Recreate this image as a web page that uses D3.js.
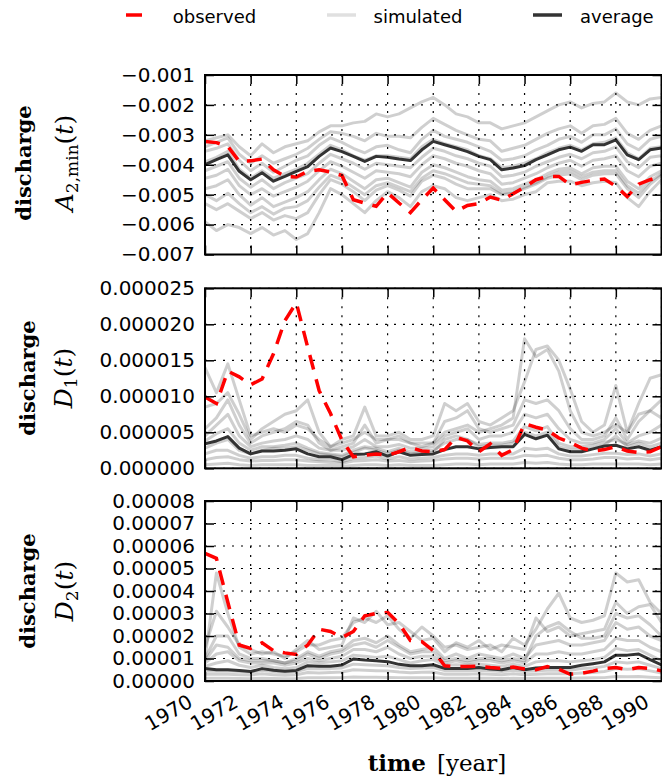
<!DOCTYPE html>
<html><head><meta charset="utf-8">
<script src="https://cdn.jsdelivr.net/npm/d3@7"></script>
<style>body{margin:0;background:#fff}svg{display:block}</style>
</head><body>
<svg id="c" width="662" height="784"></svg>
<script>
// ---------------- DATA ----------------
const years = [1970,1970.5,1971,1971.5,1972,1972.5,1973,1973.5,1974,1974.5,1975,1975.5,1976,1976.5,1977,1977.5,1978,1978.5,1979,1979.5,1980,1980.5,1981,1981.5,1982,1982.5,1983,1983.5,1984,1984.5,1985,1985.5,1986,1986.5,1987,1987.5,1988,1988.5,1989,1989.5,1990];
const xTickValues = [1970,1972,1974,1976,1978,1980,1982,1984,1986,1988,1990];
const xTickLabels = ["1970","1972","1974","1976","1978","1980","1982","1984","1986","1988","1990"];

// Panel 1: discharge A_{2,min}(t), values in units of 1e-3
const a2minTickValues = [-7,-6,-5,-4,-3,-2,-1];
const a2minTickLabels = ["\u22120.007","\u22120.006","\u22120.005","\u22120.004","\u22120.003","\u22120.002","\u22120.001"];
const a2minObserved = [-3.22,-3.26,-3.39,-3.89,-3.87,-3.81,-4.17,-4.39,-4.41,-4.22,-4.17,-4.24,-4.36,-5.17,-5.28,-5.39,-4.94,-5.28,-5.60,-5.17,-4.78,-5.17,-5.56,-5.36,-5.30,-5.08,-5.19,-4.97,-4.75,-4.50,-4.39,-4.39,-4.67,-4.59,-4.52,-4.48,-4.72,-5.06,-4.65,-4.50,-4.39];
const a2minAverage = [-4.00,-3.83,-3.67,-4.22,-4.50,-4.27,-4.55,-4.39,-4.22,-4.06,-3.72,-3.44,-3.56,-3.72,-3.89,-3.72,-3.75,-3.81,-3.86,-3.50,-3.22,-3.33,-3.44,-3.56,-3.72,-3.83,-4.17,-4.11,-4.03,-3.83,-3.67,-3.50,-3.41,-3.55,-3.33,-3.33,-3.17,-3.67,-3.83,-3.50,-3.44];
const a2minSimulated = [
 [-3.20,-3.10,-3.00,-3.40,-3.70,-3.30,-3.60,-3.40,-3.30,-3.20,-2.90,-2.70,-2.70,-2.60,-2.55,-2.30,-2.40,-2.30,-2.10,-1.90,-1.75,-2.00,-2.30,-2.40,-2.60,-2.60,-2.80,-2.70,-2.60,-2.40,-2.20,-2.00,-1.90,-2.10,-1.95,-1.90,-1.60,-1.90,-2.00,-1.80,-1.75],
 [-3.40,-3.25,-3.10,-3.65,-3.95,-3.70,-3.95,-3.80,-3.65,-3.45,-3.15,-2.90,-2.95,-3.05,-3.20,-2.95,-3.05,-3.05,-3.10,-2.75,-2.45,-2.65,-2.85,-3.00,-3.15,-3.20,-3.55,-3.45,-3.35,-3.15,-2.95,-2.80,-2.70,-2.95,-2.70,-2.65,-2.45,-2.95,-3.15,-2.85,-2.70],
 [-3.55,-3.45,-3.30,-3.85,-4.20,-3.95,-4.25,-4.05,-3.85,-3.70,-3.35,-3.10,-3.25,-3.45,-3.60,-3.40,-3.35,-3.50,-3.60,-3.15,-2.85,-3.05,-3.15,-3.25,-3.40,-3.55,-3.85,-3.80,-3.70,-3.50,-3.35,-3.15,-3.05,-3.25,-3.00,-3.00,-2.80,-3.30,-3.50,-3.15,-3.05],
 [-3.90,-3.75,-3.55,-4.15,-4.45,-4.20,-4.45,-4.30,-4.15,-3.95,-3.65,-3.35,-3.50,-3.70,-3.85,-3.70,-3.70,-3.75,-3.80,-3.40,-3.15,-3.30,-3.40,-3.50,-3.70,-3.80,-4.10,-4.05,-3.95,-3.80,-3.60,-3.45,-3.35,-3.50,-3.30,-3.25,-3.10,-3.60,-3.80,-3.45,-3.40],
 [-4.20,-4.05,-3.90,-4.45,-4.75,-4.50,-4.80,-4.60,-4.45,-4.30,-3.95,-3.65,-3.80,-3.95,-4.15,-3.95,-4.00,-4.05,-4.10,-3.75,-3.45,-3.55,-3.70,-3.80,-3.95,-4.05,-4.40,-4.35,-4.25,-4.05,-3.90,-3.75,-3.65,-3.80,-3.60,-3.55,-3.40,-3.90,-4.10,-3.75,-3.70],
 [-4.45,-4.35,-4.15,-4.70,-5.00,-4.80,-5.05,-4.90,-4.75,-4.55,-4.20,-3.90,-4.05,-4.25,-4.45,-4.20,-4.25,-4.30,-4.40,-4.00,-3.70,-3.80,-3.95,-4.05,-4.20,-4.30,-4.65,-4.60,-4.45,-4.30,-4.10,-3.95,-3.85,-4.05,-3.85,-3.80,-3.70,-4.20,-4.40,-4.05,-3.95],
 [-4.80,-4.70,-4.50,-5.00,-5.35,-5.10,-5.40,-5.25,-5.10,-4.90,-4.50,-4.15,-4.30,-4.55,-4.80,-4.50,-4.45,-4.60,-4.75,-4.25,-4.00,-4.10,-4.25,-4.40,-4.50,-4.55,-4.85,-4.80,-4.65,-4.50,-4.30,-4.15,-4.10,-4.30,-4.10,-4.05,-4.05,-4.55,-4.80,-4.40,-4.20],
 [-5.00,-5.20,-4.95,-5.30,-5.60,-5.40,-5.65,-5.45,-5.40,-5.20,-4.75,-4.35,-4.50,-4.75,-5.00,-4.70,-4.60,-4.75,-4.90,-4.45,-4.20,-4.30,-4.45,-4.60,-4.65,-4.70,-4.95,-4.90,-4.75,-4.60,-4.40,-4.25,-4.20,-4.40,-4.25,-4.20,-4.20,-4.70,-4.95,-4.55,-4.30],
 [-5.30,-5.50,-5.30,-5.55,-5.80,-5.60,-5.85,-5.70,-5.80,-5.60,-5.00,-4.50,-4.65,-4.90,-5.20,-4.85,-4.70,-4.85,-5.05,-4.55,-4.35,-4.45,-4.65,-4.80,-4.80,-4.80,-5.00,-4.95,-4.80,-4.65,-4.45,-4.35,-4.30,-4.50,-4.35,-4.30,-4.30,-4.80,-5.10,-4.65,-4.35],
 [-5.90,-6.20,-6.00,-6.10,-6.30,-6.10,-6.35,-6.20,-6.50,-6.30,-5.60,-4.80,-5.00,-5.30,-5.60,-5.20,-4.90,-5.10,-5.40,-4.90,-4.70,-4.80,-5.10,-5.20,-5.10,-5.00,-5.20,-5.15,-5.00,-4.90,-4.60,-4.55,-4.55,-4.70,-4.60,-4.55,-4.60,-5.10,-5.40,-4.90,-4.50]
];

// Panel 2: discharge D_1(t), values in units of 1e-6
const d1TickValues = [0,5,10,15,20,25];
const d1TickLabels = ["0.000000","0.000005","0.000010","0.000015","0.000020","0.000025"];
const d1Observed = [9.9,9.0,13.5,12.7,11.6,12.4,15.9,20.5,23.0,16.8,10.8,7.6,3.9,1.6,1.8,2.0,1.8,2.3,2.9,2.4,2.3,2.6,4.3,3.8,2.3,3.4,1.8,2.6,6.2,5.7,5.3,4.2,3.6,2.8,2.4,2.6,3.0,2.4,2.2,2.3,3.0];
const d1Average = [3.4,3.8,4.4,2.8,2.0,2.4,2.4,2.5,2.7,2.0,1.6,1.6,1.2,1.9,2.0,2.3,1.7,2.3,1.8,1.9,2.0,2.6,3.0,3.0,2.7,2.9,3.0,3.0,4.7,4.1,4.6,2.7,2.3,2.3,2.7,3.1,3.2,2.7,3.0,2.5,3.0];
const d1Simulated = [
 [14.0,10.5,14.5,9.5,4.5,5.0,5.5,5.0,6.0,5.5,4.0,3.0,3.5,4.0,5.0,4.0,4.0,4.5,3.5,3.5,3.5,5.0,5.5,6.0,5.0,5.5,6.0,7.0,18.0,15.5,16.5,13.5,8.0,5.0,4.5,5.0,6.0,5.0,7.5,8.0,7.0],
 [8.5,9.0,10.5,7.5,4.0,5.5,6.5,7.5,8.0,9.5,5.0,3.0,4.0,4.5,8.5,4.5,4.5,5.0,4.0,4.0,4.5,9.0,8.0,9.0,6.5,6.0,7.0,8.0,12.0,16.5,17.0,15.0,11.0,6.5,5.0,6.0,11.5,5.0,9.0,12.5,13.0],
 [5.5,7.0,9.5,6.0,3.5,4.5,5.0,5.5,6.5,6.0,3.5,2.5,3.0,3.5,6.0,3.5,4.0,4.0,3.5,3.0,3.5,6.5,7.0,8.0,5.5,5.0,5.5,6.0,9.5,9.0,9.5,8.0,5.5,4.0,4.0,4.5,7.0,4.0,6.5,8.0,9.5],
 [4.5,6.0,7.5,4.5,3.0,3.5,3.8,4.0,4.5,4.0,2.8,2.5,2.5,3.0,4.0,3.0,3.0,3.3,2.8,2.8,3.0,4.5,5.0,5.5,4.0,4.5,4.5,5.0,7.5,7.0,7.5,5.5,4.0,3.5,3.5,4.0,5.5,3.5,4.5,5.0,6.0],
 [3.8,4.8,5.5,3.5,2.5,3.0,3.0,3.2,3.5,2.8,2.2,2.0,1.8,2.5,3.0,2.8,2.3,2.8,2.3,2.4,2.5,3.5,4.0,4.0,3.3,3.5,3.5,3.8,5.8,5.2,5.8,3.5,3.0,3.0,3.2,3.6,4.0,3.3,3.8,3.5,4.2],
 [2.8,3.5,4.0,2.5,2.0,2.5,2.8,2.8,3.0,2.5,2.0,1.8,1.6,2.2,2.8,2.5,2.0,2.5,2.0,2.2,2.2,4.0,4.5,4.0,3.0,3.2,3.2,3.5,5.0,4.5,5.0,3.0,2.6,2.6,2.8,3.2,4.5,3.0,3.5,3.0,3.5],
 [2.0,2.5,2.5,1.8,1.4,1.6,1.6,1.8,1.8,1.4,1.2,1.2,0.9,1.4,1.5,1.7,1.3,1.6,1.3,1.4,1.5,1.8,2.0,2.0,1.8,2.0,2.0,2.0,2.8,2.6,2.8,2.0,1.7,1.7,1.9,2.1,2.1,1.9,2.0,1.7,2.0],
 [1.2,1.5,1.6,1.2,1.0,1.1,1.1,1.2,1.2,1.0,0.9,0.8,0.7,1.0,1.1,1.2,1.0,1.1,0.9,1.0,1.1,1.3,1.4,1.4,1.3,1.4,1.4,1.4,1.8,1.7,1.8,1.4,1.2,1.2,1.3,1.5,1.5,1.3,1.4,1.2,1.4],
 [0.5,0.6,0.7,0.5,0.4,0.5,0.5,0.5,0.5,0.4,0.4,0.4,0.3,0.4,0.5,0.5,0.4,0.5,0.4,0.4,0.4,0.5,0.6,0.6,0.5,0.6,0.6,0.6,0.8,0.7,0.8,0.6,0.5,0.5,0.6,0.6,0.6,0.6,0.6,0.5,0.6]
];

// Panel 3: discharge D_2(t), values in units of 1e-5
const d2TickValues = [0,1,2,3,4,5,6,7,8];
const d2TickLabels = ["0.00000","0.00001","0.00002","0.00003","0.00004","0.00005","0.00006","0.00007","0.00008"];
const d2Observed = [5.67,5.45,3.5,1.6,1.45,1.7,1.35,1.25,1.18,1.6,2.3,2.2,1.93,2.2,2.9,3.0,3.05,2.55,1.8,1.75,1.35,0.68,0.64,0.64,0.66,0.6,0.56,0.62,0.53,0.5,0.64,0.52,0.3,0.34,0.44,0.56,0.6,0.5,0.6,0.56,0.45];
const d2Average = [0.56,0.5,0.5,0.47,0.42,0.55,0.48,0.43,0.47,0.68,0.66,0.66,0.71,0.98,0.93,0.9,0.86,0.74,0.68,0.68,0.72,0.56,0.56,0.56,0.6,0.53,0.5,0.6,0.5,0.58,0.6,0.6,0.6,0.7,0.77,0.85,1.15,1.15,1.2,0.95,0.72];
const d2Simulated = [
 [1.0,4.8,3.0,1.5,1.2,1.3,1.2,1.1,1.3,1.6,1.6,1.8,1.9,2.6,2.8,2.6,2.9,2.3,1.9,2.4,2.0,1.5,1.6,1.4,1.5,1.6,1.3,1.9,1.6,2.3,3.2,3.9,2.8,2.6,2.7,2.9,4.8,4.4,4.5,3.5,3.0],
 [1.5,3.1,2.4,1.6,1.4,1.2,1.3,1.0,1.4,1.8,1.4,1.5,1.6,2.8,2.6,3.1,2.5,2.6,2.2,1.8,1.9,1.3,1.7,1.5,1.8,1.4,1.6,1.5,1.4,2.8,2.2,2.4,2.0,2.1,2.2,2.3,3.5,3.0,3.3,3.4,2.6],
 [0.9,1.6,1.5,1.0,0.9,0.9,0.9,0.8,0.9,1.2,1.0,1.2,1.3,1.6,1.7,1.5,1.8,1.5,1.2,1.3,1.3,0.9,1.0,0.9,1.0,1.0,0.9,1.0,0.9,2.0,2.4,2.6,2.2,1.9,1.9,2.0,3.0,2.8,2.9,2.5,2.0],
 [1.0,2.0,2.0,1.2,1.0,1.0,0.9,0.8,1.0,1.3,1.1,1.3,1.4,1.8,1.9,1.7,2.0,1.6,1.3,1.4,1.5,1.0,1.2,1.0,1.2,1.1,1.0,1.2,1.0,1.6,1.7,1.8,1.6,1.6,1.7,1.8,2.6,2.3,2.4,2.0,1.8],
 [0.8,1.2,1.3,0.9,0.8,0.8,0.8,0.7,0.8,1.0,0.9,1.0,1.1,1.4,1.4,1.3,1.5,1.2,1.0,1.1,1.1,0.8,0.9,0.8,0.9,0.9,0.8,0.9,0.8,1.2,1.2,1.3,1.2,1.2,1.3,1.4,1.9,1.8,1.8,1.5,1.3],
 [0.65,0.8,0.9,0.7,0.6,0.7,0.6,0.55,0.6,0.85,0.8,0.85,0.9,1.15,1.1,1.05,1.1,0.95,0.8,0.9,0.95,0.7,0.72,0.7,0.75,0.7,0.65,0.75,0.65,0.85,0.9,0.9,0.85,0.9,0.95,1.05,1.45,1.35,1.4,1.15,0.9],
 [0.45,0.45,0.45,0.42,0.40,0.48,0.42,0.38,0.42,0.55,0.55,0.55,0.58,0.75,0.72,0.70,0.68,0.60,0.55,0.58,0.60,0.46,0.46,0.46,0.48,0.45,0.42,0.48,0.42,0.46,0.48,0.48,0.48,0.55,0.58,0.65,0.85,0.80,0.85,0.70,0.55],
 [0.3,0.3,0.3,0.28,0.27,0.32,0.28,0.25,0.28,0.38,0.36,0.38,0.40,0.50,0.48,0.46,0.45,0.40,0.37,0.39,0.40,0.30,0.30,0.30,0.32,0.30,0.28,0.32,0.28,0.30,0.32,0.32,0.32,0.36,0.38,0.42,0.55,0.52,0.55,0.45,0.36],
 [0.12,0.12,0.12,0.11,0.1,0.12,0.11,0.1,0.11,0.14,0.14,0.14,0.15,0.18,0.17,0.17,0.16,0.15,0.14,0.14,0.15,0.12,0.12,0.12,0.12,0.12,0.11,0.12,0.11,0.12,0.12,0.12,0.12,0.13,0.14,0.15,0.2,0.19,0.2,0.17,0.14]
];

const legendLabels = ["observed","simulated","average"];

// ---------------- DRAWING ----------------
const svg = d3.select("#c");
const LEFT = 205, RIGHT = 661.5;
const x = d3.scaleLinear().domain([1970, 1990]).range([LEFT, RIGHT]);

const panels = [
  {top:75, bottom:254.5, domain:[-7,-1], tv:a2minTickValues, tl:a2minTickLabels, obs:a2minObserved, avg:a2minAverage, sims:a2minSimulated, lx1:31, lx2:73, cy:163, main:"A", sub:"2,min"},
  {top:288.3, bottom:468.3, domain:[0,25], tv:d1TickValues, tl:d1TickLabels, obs:d1Observed, avg:d1Average, sims:d1Simulated, lx1:34.5, lx2:72, cy:378, main:"D", sub:"1"},
  {top:501, bottom:681, domain:[0,8], tv:d2TickValues, tl:d2TickLabels, obs:d2Observed, avg:d2Average, sims:d2Simulated, lx1:34.5, lx2:73, cy:591, main:"D", sub:"2"}
];

panels.forEach((p, pi) => {
  const y = d3.scaleLinear().domain(p.domain).range([p.bottom, p.top]);
  const g = svg.append("g");
  const clipId = "clip" + pi;
  svg.append("clipPath").attr("id", clipId).append("rect")
    .attr("x", LEFT).attr("y", p.top).attr("width", RIGHT - LEFT).attr("height", p.bottom - p.top);
  const line = d3.line().x((d, i) => x(years[i])).y(d => y(d));
  const data = g.append("g").attr("clip-path", `url(#${clipId})`);

  data.selectAll("path.sim").data(p.sims).join("path").attr("class","sim")
    .attr("d", line).attr("fill","none").attr("stroke","#000").attr("stroke-opacity",0.19)
    .attr("stroke-width",3).attr("stroke-linejoin","round");

  // grid
  const grid = g.append("g").attr("stroke","#000").attr("stroke-width",1.2).attr("stroke-dasharray","2,7");
  grid.selectAll("line.gx").data(xTickValues).join("line").attr("class","gx")
    .attr("x1", d => x(d)).attr("x2", d => x(d)).attr("y1", p.top).attr("y2", p.bottom);
  grid.selectAll("line.gy").data(p.tv).join("line").attr("class","gy")
    .attr("x1", LEFT).attr("x2", RIGHT).attr("y1", d => y(d)).attr("y2", d => y(d));

  data.append("path").datum(p.avg).attr("d", line).attr("fill","none")
    .attr("stroke","#333").attr("stroke-width",3).attr("stroke-linejoin","round");
  data.append("path").datum(p.obs).attr("d", line).attr("fill","none")
    .attr("stroke","#ff0000").attr("stroke-width",3.5).attr("stroke-dasharray","15,10");

  // axes (inward ticks)
  const styleAxis = sel => {
    sel.select(".domain").remove();
    sel.selectAll(".tick line").attr("stroke","#000").attr("stroke-width",1.5);
    sel.selectAll(".tick text").attr("fill","#000").attr("font-family","DejaVu Sans").attr("font-size",20);
  };
  g.append("g").attr("transform",`translate(${LEFT},0)`)
    .call(d3.axisLeft(y).tickValues(p.tv).tickSize(-9).tickPadding(10).tickFormat((d,i) => p.tl[i]))
    .call(styleAxis);
  g.append("g").attr("transform",`translate(${RIGHT},0)`)
    .call(d3.axisRight(y).tickValues(p.tv).tickSize(-9).tickFormat(""))
    .call(styleAxis);
  g.append("g").attr("transform",`translate(0,${p.top})`)
    .call(d3.axisTop(x).tickValues(xTickValues).tickSize(-9).tickFormat(""))
    .call(styleAxis);
  g.append("g").attr("transform",`translate(0,${p.bottom})`)
    .call(d3.axisBottom(x).tickValues(xTickValues).tickSize(-9).tickFormat(""))
    .call(styleAxis);

  // frame
  g.append("rect").attr("x", LEFT).attr("y", p.top).attr("width", RIGHT - LEFT).attr("height", p.bottom - p.top)
    .attr("fill","none").attr("stroke","#000").attr("stroke-width",2);

  // y label (two lines)
  svg.append("text").attr("transform",`translate(${p.lx1},${p.cy}) rotate(-90)`)
    .attr("text-anchor","middle").attr("font-family","DejaVu Serif").attr("font-weight","bold")
    .attr("font-size",21).attr("fill","#000").text("discharge");
  const mt = svg.append("text").attr("transform",`translate(${p.lx2},${p.cy}) rotate(-90)`)
    .attr("text-anchor","middle").attr("font-family","DejaVu Serif").attr("font-size",25).attr("fill","#000");
  mt.append("tspan").attr("font-style","italic").text(p.main);
  mt.append("tspan").attr("font-size",17).attr("dy",5).text(p.sub);
  mt.append("tspan").attr("dy",-5).text("(");
  mt.append("tspan").attr("font-style","italic").text("t");
  mt.append("tspan").text(")");

  if (pi === panels.length - 1) {
    svg.append("g").selectAll("text").data(xTickValues).join("text")
      .attr("transform", d => `translate(${x(d) - 11},706) rotate(-30)`)
      .attr("text-anchor","end").attr("font-family","DejaVu Sans").attr("font-size",20).attr("fill","#000")
      .text((d,i) => xTickLabels[i]);
  }
});

// x label
svg.append("text").attr("x",426).attr("y",771).attr("text-anchor","end")
  .attr("font-family","DejaVu Serif").attr("font-weight","bold").attr("font-size",23).text("time");
svg.append("text").attr("x",437).attr("y",771).attr("text-anchor","start")
  .attr("font-family","DejaVu Serif").attr("font-size",23).text("[year]");

// legend
const legendItems = [
  {stroke:"#ff0000", op:1, dash:"16,14", x1:126, tx:172.7},
  {stroke:"#000", op:0.12, dash:null, x1:327, tx:373.5},
  {stroke:"#333", op:1, dash:null, x1:533, tx:580}
];
const lg = svg.append("g");
legendItems.forEach((it, i) => {
  lg.append("line").attr("x1", it.x1).attr("x2", it.x1 + 29).attr("y1", 15).attr("y2", 15)
    .attr("stroke", it.stroke).attr("stroke-opacity", it.op).attr("stroke-width", 3.5)
    .attr("stroke-dasharray", it.dash);
  lg.append("text").attr("x", it.tx).attr("y", 23).attr("font-family","DejaVu Sans")
    .attr("font-size",18).attr("fill","#000").text(legendLabels[i]);
});
</script>
</body></html>
